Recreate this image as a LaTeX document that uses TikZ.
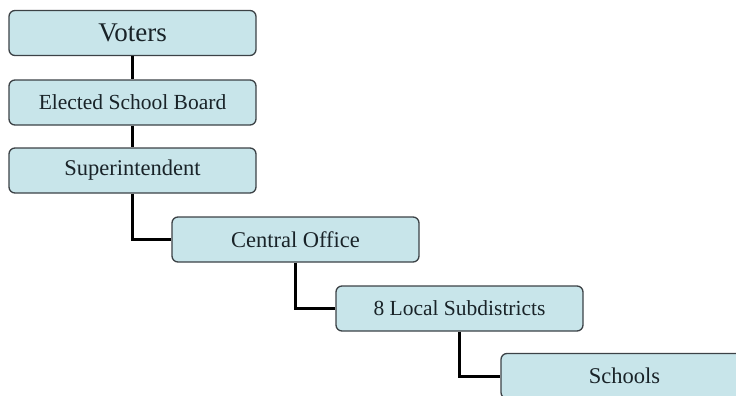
\documentclass[tikz,border=0pt]{standalone}
\usepackage{fontspec}
\setmainfont{Liberation Serif}
\usetikzlibrary{positioning}
\definecolor{boxfill}{RGB}{200,229,234}
\definecolor{boxline}{RGB}{60,66,70}
\definecolor{boxtext}{RGB}{25,35,40}

\begin{document}
\begin{tikzpicture}[x=1pt, y=-1pt,
    orgbox/.style={draw=boxline, line width=1.3pt, fill=boxfill, rounded corners=6pt,
        minimum width=247pt, minimum height=45pt, inner sep=2pt, text=boxtext,
        font=\fontsize{22.5}{26}\selectfont},
    link/.style={line width=3pt, black}]
         \clip (0,0) rectangle (736,396);
         % Define nodes
         \node[orgbox, font=\fontsize{27}{30}\selectfont] (voters) at (132.5,33) {Voters};
         \node[orgbox, font=\fontsize{21.5}{25}\selectfont] (board) at (132.5,102.5) {Elected School Board};
         \node[orgbox] (super) at (132.5,170.5) {Superintendent};
         \node[orgbox] (central) at (295.5,239.5) {Central Office};
         \node[orgbox, font=\fontsize{21.5}{25}\selectfont] (local) at (459.5,308.5) {8 Local Subdistricts};
         \node[orgbox] (schools) at (624.5,376) {Schools};

         % Draw edges
         \draw[link] (voters) -- (board);
         \draw[link] (board) -- (super);
         \draw[link] (super.south) |- (central.west);
         \draw[link] (central.south) |- (local.west);
         \draw[link] (local.south) |- (schools.west);
\end{tikzpicture}
\end{document}
